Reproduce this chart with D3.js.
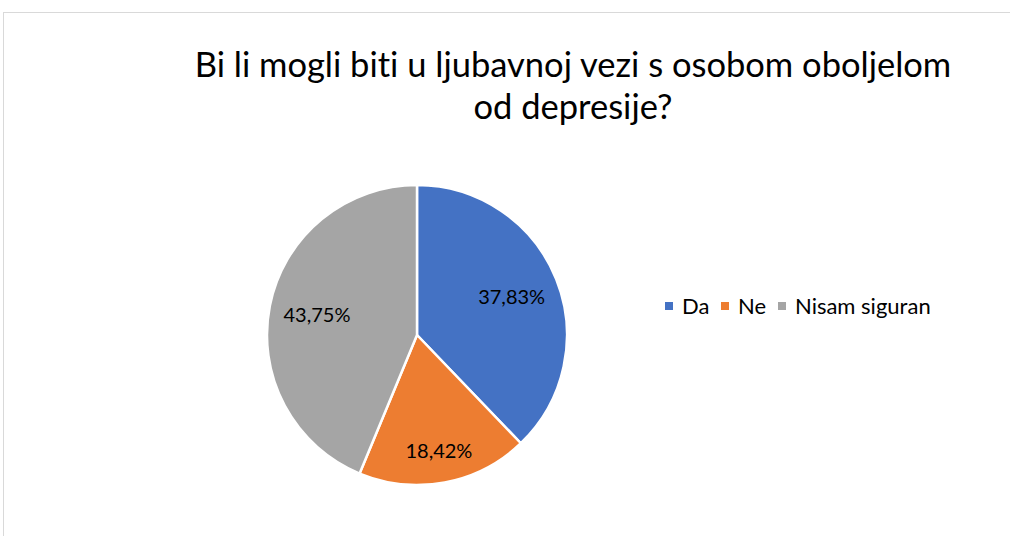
<!DOCTYPE html>
<html>
<head>
<meta charset="utf-8">
<script src="https://cdn.jsdelivr.net/npm/d3@7"></script>
<style>
  body { margin: 0; background: #fff; }
  text { font-family: Lato, "Open Sans", sans-serif; fill: #000; font-variant-ligatures: none; }
</style>
</head>
<body>
<div id="chart"></div>
<script>
// data
var categories = ["Da", "Ne", "Nisam siguran"],
    values = [37.83, 18.42, 43.75],
    labels = ["37,83%", "18,42%", "43,75%"],
    colors = ["#4472c4", "#ed7d31", "#a5a5a5"];

var titleLines = ["Bi li mogli biti u ljubavnoj vezi s osobom oboljelom", "od depresije?"];

var width = 1010, height = 536;
var cx = 417, cy = 335, radius = 150;
// label distance from centre, as share of radius (Excel "best fit" look)
var labelRadius = [0.68, 0.79, 0.68];

var svg = d3.select("#chart")
  .append("svg")
    .attr("width", width)
    .attr("height", height);

// chart frame
svg.append("rect")
    .attr("x", 3.5)
    .attr("y", 12.5)
    .attr("width", width + 20)
    .attr("height", height + 20)
    .attr("fill", "#fff")
    .attr("stroke", "#d9d9d9")
    .attr("stroke-width", 1);

// title
svg.append("text")
    .attr("x", 573)
    .attr("y", 77)
    .attr("text-anchor", "middle")
    .style("font-size", "34.5px")
  .selectAll("tspan")
  .data(titleLines)
  .enter().append("tspan")
    .attr("x", 573)
    .attr("dy", function(d, i) { return i ? 42 : 0; })
    .text(function(d) { return d; });

var data = categories.map(function(c, i) { return {name: c, value: values[i], label: labels[i], color: colors[i]}; });

var pie = d3.pie()
    .sort(null)
    .value(function(d) { return d.value; });

var arc = d3.arc().innerRadius(0).outerRadius(radius);

var g = svg.append("g")
    .attr("transform", "translate(" + cx + "," + cy + ")");

g.selectAll(".slice")
  .data(pie(data))
  .enter().append("path")
    .attr("class", "slice")
    .attr("d", arc)
    .attr("fill", function(d) { return d.data.color; })
    .attr("stroke", "#fff")
    .attr("stroke-width", 2.5)
    .attr("stroke-linejoin", "round");

g.selectAll(".lbl")
  .data(pie(data))
  .enter().append("text")
    .attr("class", "lbl")
    .attr("transform", function(d, i) {
      var r = radius * labelRadius[i];
      return "translate(" + d3.arc().innerRadius(r).outerRadius(r).centroid(d) + ")";
    })
    .attr("text-anchor", "middle")
    .attr("dy", "0.35em")
    .style("font-size", "20px")
    .text(function(d) { return d.data.label; });

// legend
var legX = [665, 721, 778];
var leg = svg.selectAll(".leg")
  .data(data)
  .enter().append("g")
    .attr("class", "leg")
    .attr("transform", function(d, i) { return "translate(" + legX[i] + ",302)"; });

leg.append("rect")
    .attr("width", 8)
    .attr("height", 8)
    .attr("fill", function(d) { return d.color; });

leg.append("text")
    .attr("x", 17)
    .attr("y", 11.5)
    .style("font-size", "22px")
    .text(function(d) { return d.name; });
</script>
</body>
</html>
